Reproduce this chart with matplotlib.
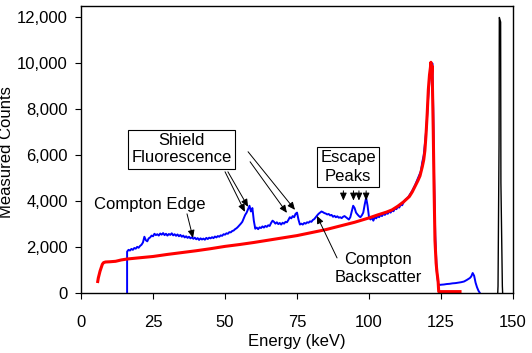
import matplotlib
matplotlib.use("Agg")
import matplotlib.pyplot as plt
from matplotlib.ticker import StrMethodFormatter
import numpy as np

plt.rcParams['font.family'] = ['Liberation Sans', 'DejaVu Sans']
plt.rcParams['font.size'] = 12

# measured spectrum (blue), channels every 0.5 keV from 16 to 113 keV
meas_energy = list(np.arange(16.0, 113.01, 0.5))
meas_counts = [
    1800, 1880, 1850, 1920, 1880, 1960, 1930, 2010, 1970, 2050,
    2100, 2200, 2450, 2300, 2250, 2380, 2420, 2500, 2470, 2580,
    2520, 2560, 2500, 2590, 2540, 2610, 2520, 2580, 2500, 2570,
    2530, 2600, 2510, 2560, 2490, 2550, 2470, 2530, 2450, 2500,
    2420, 2470, 2400, 2450, 2380, 2430, 2360, 2410, 2340, 2390,
    2310, 2380, 2330, 2370, 2320, 2400, 2350, 2410, 2380, 2430,
    2390, 2460, 2420, 2480, 2450, 2510, 2490, 2560, 2540, 2600,
    2580, 2650, 2640, 2700, 2720, 2780, 2820, 2880, 2950, 3020,
    3100, 3250, 3400, 3500, 3650, 3800, 3550, 3700, 3150, 2800,
    2850, 2780, 2860, 2830, 2900, 2850, 2920, 2880, 2950, 2920,
    3050, 3150, 3100, 3020, 3080, 3000, 3050, 2980, 3060, 3020,
    3100, 3080, 3180, 3300, 3250, 3350, 3300, 3450, 3500, 3200,
    2980, 3020, 2980, 3050, 3020, 3080, 3060, 3120, 3100, 3180,
    3220, 3300, 3380, 3450, 3500, 3550, 3520, 3480, 3460, 3420,
    3440, 3380, 3400, 3320, 3360, 3300, 3340, 3280, 3300, 3260,
    3320, 3350, 3300, 3250, 3200, 3300, 3550, 3800, 3700, 3500,
    3420, 3350, 3300, 3380, 3500, 3850, 4150, 3800, 3300, 3200,
    3280, 3150, 3300, 3250, 3350, 3300, 3400, 3350, 3450, 3400,
    3480, 3450, 3550, 3500, 3600, 3560, 3680, 3650, 3750, 3720,
    3850, 3820, 3950, 4050, 4100,
]

# full energy peak and the region above it
peak_energy = [113.5, 114, 115, 116, 117, 118, 118.5, 119, 119.5, 120, 120.5,
               121, 121.5, 122, 122.3, 122.6, 123, 123.5, 124, 124.5, 125,
               126, 127, 128, 129, 130, 131, 132, 133, 134, 135, 135.5, 136,
               136.5, 137, 137.5, 138, 138.5]
peak_counts = [4150, 4250, 4450, 4700, 5000, 5300, 5700, 6000, 6600, 7300, 8400,
               9300, 9600, 10000, 8000, 5000, 2500, 1000, 400, 350, 360,
               370, 390, 400, 420, 430, 450, 470, 500, 570, 650, 720, 870,
               750, 450, 250, 100, 0]

# model (red)
model_energy = [5.8, 6.0, 6.3, 6.6, 7.0, 7.4, 7.8, 8.5, 10, 12, 14, 16, 20, 25,
                30, 35, 40, 45, 50, 55, 60, 65, 70, 75, 80, 85, 90, 95, 100,
                103, 106, 108, 110, 112, 114, 115, 116, 117, 117.7, 118.5, 119,
                119.4, 119.8, 120.2, 120.6, 121, 121.3, 121.5, 121.7, 121.9,
                122.1, 122.3, 122.6, 122.9, 123.3, 123.6, 124.0, 124.2, 131.6]
model_counts = [500, 650, 800, 950, 1100, 1250, 1320, 1350, 1360, 1380, 1440,
                1480, 1530, 1590, 1680, 1760, 1840, 1930, 2030, 2110, 2200,
                2300, 2400, 2500, 2630, 2760, 2920, 3080, 3270, 3400, 3520,
                3620, 3780, 3970, 4200, 4400, 4650, 4900, 5100, 5500, 5800,
                6200, 6900, 7800, 8860, 9500, 9800, 10050, 9500, 9900, 8500,
                7100, 4500, 2300, 1300, 900, 500, 60, 60]

# unscattered line (black)
line_energy = [144.7, 144.8, 145.15, 145.25, 145.7, 145.8, 146.3, 146.4]
line_counts = [0, 300, 6500, 12000, 11800, 4800, 300, 0]

fig = plt.figure(figsize=(5.32, 3.53), dpi=100)
ax = fig.add_axes([0.1523, 0.170, 0.812, 0.813])

ax.plot([meas_energy[0]] + meas_energy + peak_energy,
        [0] + meas_counts + peak_counts, color="blue", lw=1.4)
ax.plot(model_energy, model_counts, color="red", lw=2.2)
ax.plot(line_energy, line_counts, color="black", lw=1.0)

ax.set_xlim(0, 150)
ax.set_ylim(0, 12500)
ax.set_xticks(np.arange(0, 151, 25))
ax.set_yticks(np.arange(0, 12001, 2000))
ax.yaxis.set_major_formatter(StrMethodFormatter("{x:,.0f}"))
ax.tick_params(direction="out", length=4.5, width=0.8, labelsize=12)
ax.tick_params(axis="x", pad=11)
ax.tick_params(axis="y", pad=5)
for s in ax.spines.values():
    s.set_linewidth(1.0)

ax.set_xlabel("Energy (keV)", labelpad=3)
ax.set_ylabel("Measured Counts")
ax.yaxis.set_label_coords(-0.155, 0.49)

arrow = dict(arrowstyle="-|>,head_length=0.45,head_width=0.2", color="black",
             lw=0.7, shrinkA=0, shrinkB=0, mutation_scale=10)

ax.text(24, 3840, "Compton Edge", ha="center", va="center")
ax.annotate("", xy=(38.9, 2400), xytext=(36.8, 3447), arrowprops=arrow)

ax.text(34.9, 6260, "Shield\nFluorescence", ha="center", va="center",
        linespacing=1.2,
        bbox=dict(boxstyle="square,pad=0.2", fc="white", ec="black", lw=0.8))
ax.annotate("", xy=(56.9, 3534), xytext=(50.0, 5280), arrowprops=arrow)
ax.annotate("", xy=(58.0, 3752), xytext=(51.0, 5280), arrowprops=arrow)
ax.annotate("", xy=(74.3, 3621), xytext=(58.0, 6152), arrowprops=arrow)
ax.annotate("", xy=(71.5, 3490), xytext=(58.7, 5716), arrowprops=arrow)

ax.text(92.7, 5475, "Escape\nPeaks", ha="center", va="center",
        linespacing=1.3,
        bbox=dict(boxstyle="square,pad=0.2", fc="white", ec="black", lw=0.8))
for e in [91.1, 94.6, 96.5, 99.0]:
    ax.annotate("", xy=(e, 4027), xytext=(e, 4450), arrowprops=arrow)

ax.text(103.2, 1069, "Compton\nBackscatter", ha="center", va="center",
        linespacing=1.3)
ax.annotate("", xy=(81.9, 3360), xytext=(88.9, 1527), arrowprops=arrow)

fig.savefig("out.png", dpi=100)
